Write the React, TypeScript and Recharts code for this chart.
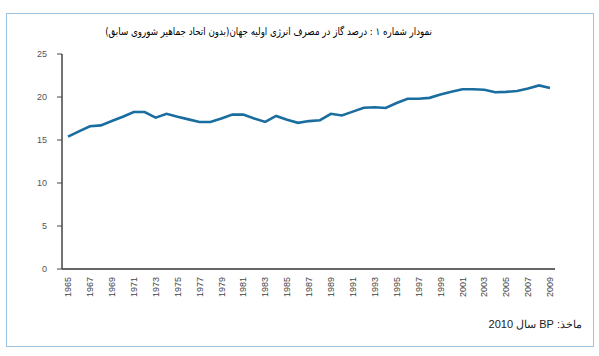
import { LineChart, Line, XAxis, YAxis } from 'recharts';

const years = [
  1965, 1966, 1967, 1968, 1969, 1970, 1971, 1972, 1973, 1974, 1975, 1976, 1977, 1978, 1979,
  1980, 1981, 1982, 1983, 1984, 1985, 1986, 1987, 1988, 1989, 1990, 1991, 1992, 1993, 1994,
  1995, 1996, 1997, 1998, 1999, 2000, 2001, 2002, 2003, 2004, 2005, 2006, 2007, 2008, 2009,
];

// share of gas in world primary energy (%)
const gasShare = [
  15.4, 16.0, 16.6, 16.7, 17.2, 17.7, 18.25, 18.25, 17.6, 18.05, 17.7, 17.4, 17.1, 17.1, 17.5,
  17.95, 17.95, 17.5, 17.1, 17.8, 17.35, 17.0, 17.2, 17.3, 18.05, 17.85, 18.3, 18.75, 18.8, 18.72,
  19.3, 19.8, 19.8, 19.9, 20.3, 20.6, 20.9, 20.9, 20.85, 20.55, 20.6, 20.7, 21.0, 21.35, 21.05,
];

const xTicks = [
  1965, 1967, 1969, 1971, 1973, 1975, 1977, 1979, 1981, 1983, 1985, 1987, 1989, 1991, 1993,
  1995, 1997, 1999, 2001, 2003, 2005, 2007, 2009,
];
const yTicks = [0, 5, 10, 15, 20, 25];

const title = 'نمودار شماره ۱ : درصد گاز در مصرف انرژی اولیه جهان(بدون اتحاد جماهیر شوروی سابق)';
const source = 'ماخذ: BP سال 2010';

const data = years.map((year, i) => ({ year, value: gasShare[i] }));

function YearTick({ x, y, payload }: any) {
  return (
    <g transform={`translate(${x},${y})`}>
      <text
        transform="rotate(-90)"
        textAnchor="end"
        dy="0.35em"
        fontSize={9}
        fill="#444"
        fontFamily="Liberation Sans, Arial, sans-serif"
      >
        {payload.value}
      </text>
    </g>
  );
}

export default function App() {
  return (
    <div
      style={{
        position: 'absolute',
        left: 0,
        top: 0,
        width: 599,
        height: 356,
        background: '#fff',
        fontFamily: 'Liberation Sans, Arial, sans-serif',
      }}
    >
      <div
        style={{
          position: 'absolute',
          left: 6,
          top: 13,
          width: 586,
          height: 332,
          border: '1px solid #9cc3e0',
        }}
      />
      <div
        style={{
          position: 'absolute',
          top: 25,
          left: 0,
          width: 432,
          textAlign: 'right',
          direction: 'rtl',
          whiteSpace: 'nowrap',
          fontFamily: 'DejaVu Sans, sans-serif',
          fontSize: 10.5,
          color: '#000',
          transform: 'scaleX(0.83)',
          transformOrigin: 'right center',
        }}
      >
        {title}
      </div>
      <div
        style={{
          position: 'absolute',
          top: 318,
          left: 400,
          width: 182,
          textAlign: 'right',
          direction: 'rtl',
          fontSize: 11,
          color: '#222',
        }}
      >
        {source}
      </div>
      <div style={{ position: 'absolute', left: 0, top: 0 }}>
        <LineChart
          width={599}
          height={356}
          data={data}
          margin={{ top: 54, right: 44, bottom: 57, left: 0 }}
        >
          <XAxis
            dataKey="year"
            type="number"
            domain={[1965, 2009]}
            ticks={xTicks}
            interval={0}
            padding={{ left: 6, right: 5 }}
            axisLine={{ stroke: '#666', strokeWidth: 2 }}
            tickLine={false}
            tickSize={0}
            tickMargin={8}
            height={30}
            tick={<YearTick />}
          />
          <YAxis
            domain={[0, 25]}
            ticks={yTicks}
            width={62}
            axisLine={{ stroke: '#444', strokeWidth: 1.5 }}
            tickLine={{ stroke: '#444' }}
            tickSize={5}
            tickMargin={10}
            tick={{ fontSize: 9, fill: '#555' }}
          />
          <Line
            dataKey="value"
            stroke="#1a6d9f"
            strokeWidth={2.6}
            dot={false}
            isAnimationActive={false}
          />
        </LineChart>
      </div>
    </div>
  );
}
